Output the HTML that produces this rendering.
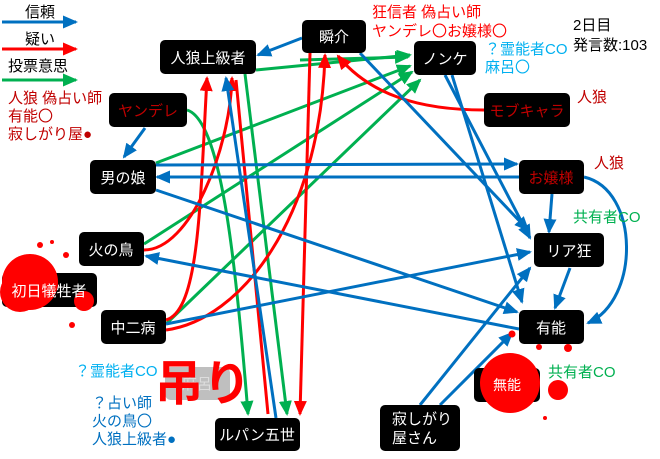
<!DOCTYPE html>
<html><head><meta charset="utf-8"><style>
body{margin:0;width:660px;height:454px;background:#fff;overflow:hidden;font-family:"Liberation Sans","Noto Sans CJK JP",sans-serif}
svg text{font-family:"Liberation Sans","Noto Sans CJK JP",sans-serif}
</style></head><body>
<svg width="660" height="454" viewBox="0 0 660 454" xmlns="http://www.w3.org/2000/svg">
<defs>
<marker id="b" markerWidth="15" markerHeight="13" refX="13" refY="6.5" orient="auto" markerUnits="userSpaceOnUse"><path d="M0,0 L15,6.5 L0,13z" fill="#0070c0"/></marker>
<marker id="r" markerWidth="15" markerHeight="13" refX="13" refY="6.5" orient="auto" markerUnits="userSpaceOnUse"><path d="M0,0 L15,6.5 L0,13z" fill="#ff0000"/></marker>
<marker id="g" markerWidth="15" markerHeight="13" refX="13" refY="6.5" orient="auto" markerUnits="userSpaceOnUse"><path d="M0,0 L15,6.5 L0,13z" fill="#00b050"/></marker>
</defs>
<!-- legend -->
<g stroke-width="3" fill="none">
<line x1="2" y1="22" x2="76" y2="22" stroke="#0070c0" marker-end="url(#b)"/>
<line x1="2" y1="49" x2="76" y2="49" stroke="#ff0000" marker-end="url(#r)"/>
<line x1="2" y1="80" x2="76" y2="80" stroke="#00b050" marker-end="url(#g)"/>
</g>
<g font-size="15" fill="#000">
<text x="25" y="17">信頼</text><text x="25" y="44">疑い</text><text x="8" y="71">投票意思</text>
</g>
<g font-size="15" fill="#c00000">
<text x="8" y="103">人狼 偽占い師</text><text x="8" y="121">有能〇</text><text x="8" y="139">寂しがり屋●</text>
</g>

<!-- edges green -->
<g stroke="#00b050" stroke-width="3" fill="none" marker-end="url(#g)">
<path d="M256,70 L410,55"/>
<path d="M300,60 L408,57"/>
<path d="M156,163 L410,66"/>
<path d="M144,244 L412,72"/>
<path d="M166,324 L420,80"/>
<path d="M187,110 C220,120 235,250 248,414"/>
<path d="M245,74 L287,414"/>
</g>
<!-- edges red -->
<g stroke="#ff0000" stroke-width="3" fill="none" marker-end="url(#r)">
<path d="M484,110 C420,110 370,95 338,56"/>
<path d="M166,320 C200,310 200,200 207,78"/>
<path d="M144,250 C190,250 230,150 232,78"/>
<path d="M166,330 C240,320 320,220 325,55"/>
<path d="M310,53 L300,414"/>
<path d="M236,80 L268,414" marker-end="none"/>
</g>
<!-- edges blue -->
<g stroke="#0070c0" stroke-width="3" fill="none" marker-end="url(#b)">
<path d="M302,38 L258,55"/>
<path d="M145,128 L124,157"/>
<path d="M156,165 L517,164"/>
<path d="M519,177 L157,177"/>
<path d="M552,194 L549,232"/>
<path d="M584,177 C640,190 640,300 588,323"/>
<path d="M570,268 L555,308"/>
<path d="M156,190 L517,312"/>
<path d="M519,329 L146,256"/>
<path d="M166,324 L530,252"/>
<path d="M445,75 L530,238"/>
<path d="M452,75 L522,302"/>
<path d="M360,53 L528,230"/>
<path d="M420,405 L530,268"/>
<path d="M440,405 L512,333"/>
<path d="M276,418 L226,78"/>
</g>

<!-- nodes -->
<g fill="#000">
<rect x="160" y="40" width="96" height="34" rx="5"/>
<rect x="302" y="20" width="64" height="33" rx="5"/>
<rect x="414" y="41" width="62" height="34" rx="5"/>
<rect x="484" y="93" width="86" height="34" rx="5"/>
<rect x="109" y="93" width="78" height="34" rx="5"/>
<rect x="90" y="160" width="66" height="34" rx="5"/>
<rect x="519" y="160" width="65" height="34" rx="5"/>
<rect x="79" y="232" width="65" height="34" rx="5"/>
<rect x="2" y="273" width="95" height="34" rx="5"/>
<rect x="534" y="233" width="70" height="34" rx="5"/>
<rect x="101" y="310" width="65" height="34" rx="5"/>
<rect x="519" y="310" width="65" height="34" rx="5"/>
<rect x="474" y="368" width="66" height="34" rx="5"/>
<rect x="215" y="418" width="85" height="33" rx="5"/>
<rect x="380" y="405" width="80" height="46" rx="5"/>
</g>
<rect x="165" y="367" width="65" height="33" rx="6" fill="#bfbfbf"/>
<!-- blood -->
<g fill="#ff0000">
<circle cx="30" cy="282" r="28"/><circle cx="20" cy="292" r="20"/><circle cx="84" cy="301" r="10"/><circle cx="40" cy="245" r="3"/><circle cx="52" cy="242" r="2"/><circle cx="72" cy="325" r="3"/><circle cx="66" cy="255" r="3"/>
<circle cx="510" cy="383" r="30"/><circle cx="558" cy="390" r="10"/><circle cx="512" cy="334" r="3.5"/><circle cx="539" cy="347" r="3"/><circle cx="568" cy="348" r="4"/><circle cx="545" cy="418" r="2"/>
</g>
<g font-size="15" fill="#fff" text-anchor="middle">
<text x="208" y="63">人狼上級者</text>
<text x="334" y="42">瞬介</text>
<text x="445" y="64">ノンケ</text>
<text x="123" y="183">男の娘</text>
<text x="111" y="255">火の鳥</text>
<text x="49" y="296">初日犠牲者</text>
<text x="569" y="256">リア狂</text>
<text x="133" y="333">中二病</text>
<text x="551" y="333">有能</text>
<text x="507" y="390" font-size="14">無能</text>
<text x="257" y="440">ルパン五世</text>
<text x="197" y="389" fill="#ddd">麻呂</text>
<text x="392" y="424" text-anchor="start">寂しがり</text>
<text x="392" y="443" text-anchor="start">屋さん</text>
</g>
<g font-size="15" fill="#c00000" text-anchor="middle">
<text x="148" y="116">ヤンデレ</text>
<text x="527" y="116">モブキャラ</text>
<text x="551" y="183">お嬢様</text>
</g>
<text x="155" y="400" font-size="48" fill="#ff0000" font-weight="bold">吊り</text>
<g font-size="15" fill="#ff0000">
<text x="372" y="17">狂信者 偽占い師</text><text x="372" y="36">ヤンデレ〇お嬢様〇</text>
</g>
<g font-size="15" fill="#00b0f0">
<text x="485" y="54">？霊能者CO</text><text x="485" y="72">麻呂〇</text>
<text x="75" y="376">？霊能者CO</text>
</g>
<g font-size="15" fill="#0070c0">
<text x="92" y="408">？占い師</text><text x="92" y="426">火の鳥〇</text><text x="92" y="444">人狼上級者●</text>
</g>
<g font-size="15" fill="#000"><text x="573" y="30">2日目</text><text x="573" y="50">発言数:103</text></g>
<g font-size="15" fill="#c00000"><text x="577" y="102">人狼</text><text x="594" y="168">人狼</text></g>
<g font-size="15" fill="#00b050"><text x="573" y="222">共有者CO</text><text x="548" y="377">共有者CO</text></g>
</svg>
</body></html>
